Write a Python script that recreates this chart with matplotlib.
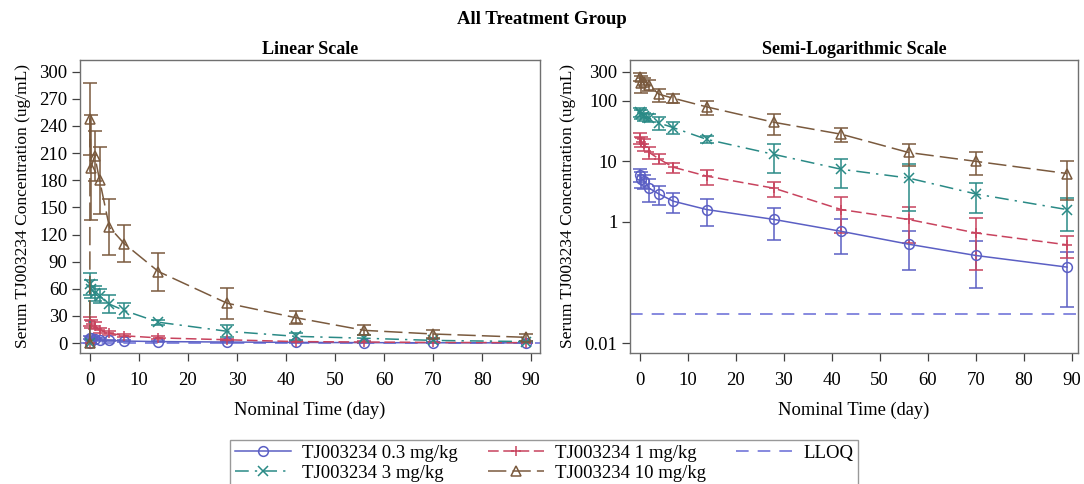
import matplotlib
matplotlib.use('Agg')
import matplotlib.pyplot as plt
import numpy as np

# nominal time (day); 0 = pre-dose
time = [0, 0.04, 0.25, 1, 2, 4, 7, 14, 28, 42, 56, 70, 89]

mean_03 = [0, 6.0, 5.2, 4.7, 3.6, 2.9, 2.2, 1.6, 1.1, 0.70, 0.43, 0.28, 0.18]
sd_03 = [0, 1.5, 1.5, 1.2, 1.5, 1.0, 0.8, 0.75, 0.6, 0.4, 0.27, 0.2, 0.14]
mean_1 = [0, 24, 21, 19, 14, 11, 8.0, 5.7, 3.6, 1.6, 1.1, 0.66, 0.42]
sd_1 = [0, 5, 4, 4, 3, 2, 1.5, 1.6, 1.0, 0.95, 0.65, 0.5, 0.17]
mean_3 = [0, 65, 60, 55, 52, 43, 36, 23, 13, 7.4, 5.3, 2.9, 1.6]
sd_3 = [0, 12, 10, 8, 8, 10, 8, 3, 6.5, 3.7, 3.8, 1.5, 0.9]
mean_10 = [0, 248, 194, 207, 180, 128, 110, 79, 44, 28, 14, 10, 6.3]
sd_10 = [0, 40, 58, 28, 37, 31, 20, 21, 17, 7, 5.5, 4, 4]
lloq = 0.03

labels = ['TJ003234 0.3 mg/kg', 'TJ003234 1 mg/kg', 'TJ003234 3 mg/kg', 'TJ003234 10 mg/kg']
means = [mean_03, mean_1, mean_3, mean_10]
sds = [sd_03, sd_1, sd_3, sd_10]
colors = ['#5b5fc4', '#c8435e', '#2a8a86', '#7a5a3e']
markers = ['o', '+', 'x', '^']
dashes = [(None, None), (7, 3), (9, 4, 1.5, 4), (12, 4)]
lloq_color = '#7d80dc'

plt.rcParams['font.family'] = ['Liberation Serif', 'DejaVu Serif']
plt.rcParams['font.size'] = 13

fig = plt.figure(figsize=(10.84, 4.84), dpi=100)
ax1 = fig.add_axes([0.0738, 0.2707, 0.4244, 0.6054])
ax2 = fig.add_axes([0.5812, 0.2707, 0.4133, 0.6054])
fig.text(0.5, 0.96, 'All Treatment Group', ha='center', va='center',
         fontsize=13.5, fontweight='bold')

handles = []
for i in range(4):
    t = np.array(time)
    m = np.array(means[i])
    s = np.array(sds[i])
    for ax, logscale in [(ax1, False), (ax2, True)]:
        if logscale:
            keep = m > 0
            tt, mm, ss = t[keep], m[keep], s[keep]
            low = np.minimum(ss, mm * 0.999)
            yerr = [low, ss]
        else:
            tt, mm, ss = t, m, s
            yerr = ss
        eb = ax.errorbar(tt, mm, yerr=yerr, color=colors[i], marker=markers[i],
                         markersize=7, mfc='none', mew=1.1, lw=1.1,
                         elinewidth=1.1, capsize=5, capthick=1.1)
        if dashes[i][0] is not None:
            eb.lines[0].set_dashes(dashes[i])
    h, = ax1.plot([], [], color=colors[i], marker=markers[i], markersize=7,
                  mfc='none', mew=1.1, lw=1.1)
    if dashes[i][0] is not None:
        h.set_dashes(dashes[i])
    handles.append(h)

for ax in (ax1, ax2):
    ax.axhline(lloq, color=lloq_color, lw=1.3, dashes=(7, 5))
h_lloq, = ax1.plot([], [], color=lloq_color, lw=1.3, dashes=(7, 5))

ax1.set_xlim(-2, 91.8)
ax1.set_ylim(-11, 313)
ax1.set_yticks(np.arange(0, 301, 30))
ax2.set_xlim(-2, 91.3)
ax2.set_yscale('log')
ax2.set_ylim(0.0069, 470)
ax2.set_yticks([0.01, 1, 10, 100, 300])
ax2.set_yticklabels(['0.01', '1', '10', '100', '300'])
ax2.minorticks_off()

for ax, title in [(ax1, 'Linear Scale'), (ax2, 'Semi-Logarithmic Scale')]:
    ax.set_xticks(np.arange(0, 91, 10))
    ax.set_title(title, fontsize=13, fontweight='bold', pad=4)
    ax.set_xlabel('Nominal Time (day)', fontsize=13.3, labelpad=9)
    ax.set_ylabel('Serum TJ003234 Concentration (ug/mL)', fontsize=12.5, labelpad=6)
    ax.tick_params(direction='out', length=6, width=0.9, color='#404040',
                   labelsize=13.5, pad=3)
    ax.tick_params(axis='x', pad=8)
    for sp in ax.spines.values():
        sp.set_color('#707070')
        sp.set_linewidth(1.0)

order = [handles[0], handles[2], handles[1], handles[3], h_lloq]
order_labels = [labels[0], labels[2], labels[1], labels[3], 'LLOQ']
leg = fig.legend(order, order_labels, ncol=3, loc='upper center',
                 bbox_to_anchor=(0.502, 0.11), frameon=True, fancybox=False,
                 edgecolor='#808080', fontsize=13.5, handlelength=3.0,
                 columnspacing=1.6, handletextpad=0.6, labelspacing=0.15,
                 borderpad=0.25)
leg.get_frame().set_linewidth(1.0)

fig.savefig('out.png', dpi=100)
